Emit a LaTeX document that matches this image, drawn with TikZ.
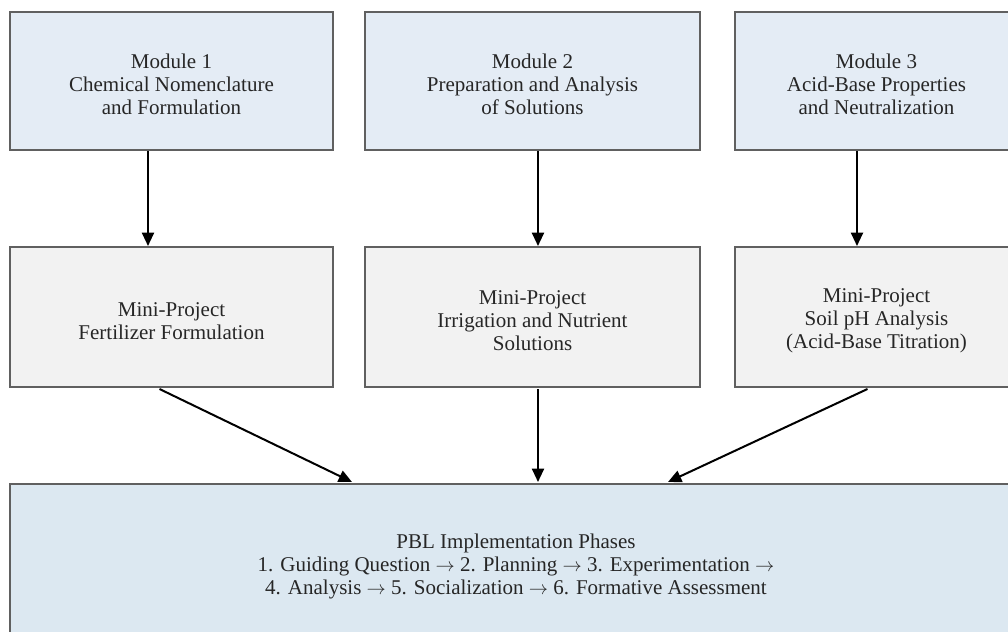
\documentclass[tikz,border=0pt]{standalone}
\usepackage{fontspec}
\setmainfont{Liberation Serif}
\usetikzlibrary{arrows.meta,calc}
\definecolor{modfill}{HTML}{E4ECF5}
\definecolor{minifill}{HTML}{F2F2F2}
\definecolor{pblfill}{HTML}{DCE8F1}
\definecolor{edgegray}{HTML}{606060}
\newcommand\tpstrut{\rule{0pt}{16.5pt}}
\newcommand\phasearrow{$\rightarrow$}
\begin{document}
\begin{tikzpicture}[x=0.75pt,y=-0.75pt,
  box/.style={draw=edgegray, line width=1.5pt, inner sep=0pt, align=center,
    font=\fontsize{15.75pt}{17.3pt}\selectfont, text=black!85},
  modbox/.style={box, fill=modfill, minimum height=103.5pt},
  minibox/.style={box, fill=minifill, minimum height=105pt},
  pblbox/.style={box, fill=pblfill, minimum height=118.5pt, minimum width=759pt},
  arr/.style={draw=black, line width=1.5pt, -{Triangle[length=10pt,width=9pt]}}]
\useasboundingbox (0,0) rectangle (1008,632);
\clip (0,0) rectangle (1008,632);
% modules
\node[modbox, minimum width=242.25pt] (m1) at (171.5,81) {\tpstrut Module 1\\Chemical Nomenclature\\and Formulation};
\node[modbox, minimum width=251.25pt] (m2) at (532.5,81) {\tpstrut Module 2\\Preparation and Analysis\\of Solutions};
\node[modbox, minimum width=212.25pt] (m3) at (876.5,81) {\tpstrut Module 3\\Acid-Base Properties\\and Neutralization};
% mini projects
\node[minibox, minimum width=242.25pt] (p1) at (171.5,317) {\tpstrut Mini-Project\\Fertilizer Formulation};
\node[minibox, minimum width=251.25pt] (p2) at (532.5,317) {\tpstrut Mini-Project\\Irrigation and Nutrient\\Solutions};
\node[minibox, minimum width=212.25pt] (p3) at (876.5,317) {\tpstrut Mini-Project\\Soil pH Analysis\\(Acid-Base Titration)};
% PBL
\node[pblbox] (pbl) at (516,563) {\tpstrut PBL Implementation Phases\\1. Guiding Question \phasearrow{} 2. Planning \phasearrow{} 3. Experimentation \phasearrow\\4. Analysis \phasearrow{} 5. Socialization \phasearrow{} 6. Formative Assessment};
% arrows
\draw[arr] ($(m1.south)+(-23.5,0)$) -- ($(p1.north)+(-23.5,0)$);
\draw[arr] ($(m2.south)+(5.5,0)$) -- ($(p2.north)+(5.5,0)$);
\draw[arr] ($(m3.south)+(-19.5,0)$) -- ($(p3.north)+(-19.5,0)$);
\draw[arr] ($(p1.south)+(-12,1)$) -- ($(pbl.north)+(-164,-1)$);
\draw[arr] ($(p2.south)+(5.5,1)$) -- ($(pbl.north)+(22,-1)$);
\draw[arr] ($(p3.south)+(-9,1)$) -- ($(pbl.north)+(152,-1)$);
\end{tikzpicture}
\end{document}
